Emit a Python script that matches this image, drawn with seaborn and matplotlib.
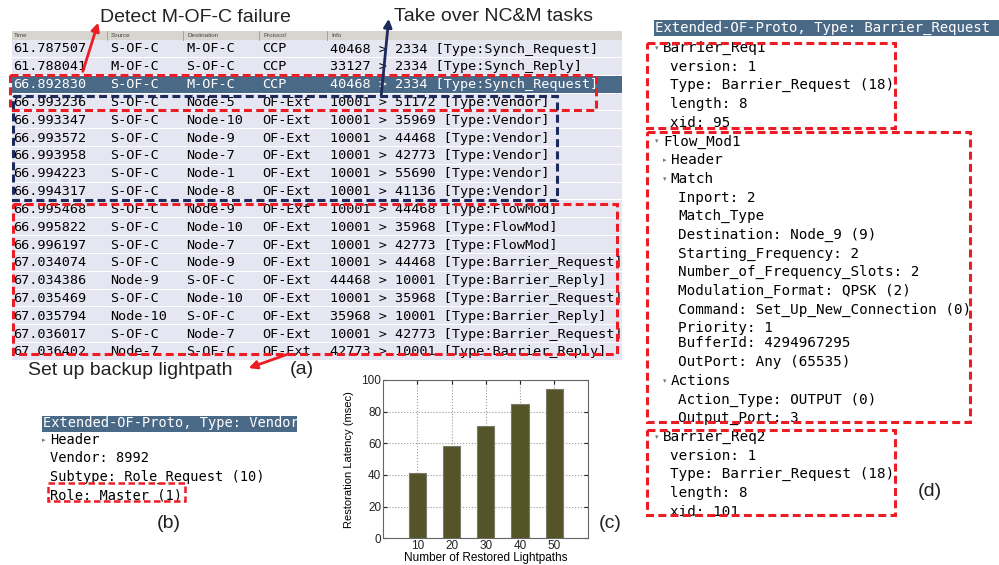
import matplotlib
matplotlib.use("Agg")
import matplotlib.pyplot as plt
from matplotlib.patches import Rectangle
import seaborn as sns

# ---- data ----
lightpaths = [10, 20, 30, 40, 50]
latency = [41, 58, 71, 85, 94]

times = ["61.787507", "61.788041", "66.892830", "66.993236", "66.993347", "66.993572",
         "66.993958", "66.994223", "66.994317", "66.995468", "66.995822", "66.996197",
         "67.034074", "67.034386", "67.035469", "67.035794", "67.036017", "67.036402"]
sources = ["S-OF-C", "M-OF-C", "S-OF-C", "S-OF-C", "S-OF-C", "S-OF-C", "S-OF-C", "S-OF-C",
           "S-OF-C", "S-OF-C", "S-OF-C", "S-OF-C", "S-OF-C", "Node-9", "S-OF-C", "Node-10",
           "S-OF-C", "Node-7"]
destinations = ["M-OF-C", "S-OF-C", "M-OF-C", "Node-5", "Node-10", "Node-9", "Node-7",
                "Node-1", "Node-8", "Node-9", "Node-10", "Node-7", "Node-9", "S-OF-C",
                "Node-10", "S-OF-C", "Node-7", "S-OF-C"]
protocols = ["CCP"] * 3 + ["OF-Ext"] * 15
infos = ["40468 > 2334 [Type:Synch_Request]", "33127 > 2334 [Type:Synch_Reply]",
         "40468 > 2334 [Type:Synch_Request]", "10001 > 51172 [Type:Vendor]",
         "10001 > 35969 [Type:Vendor]", "10001 > 44468 [Type:Vendor]",
         "10001 > 42773 [Type:Vendor]", "10001 > 55690 [Type:Vendor]",
         "10001 > 41136 [Type:Vendor]", "10001 > 44468 [Type:FlowMod]",
         "10001 > 35968 [Type:FlowMod]", "10001 > 42773 [Type:FlowMod]",
         "10001 > 44468 [Type:Barrier_Request]", "44468 > 10001 [Type:Barrier_Reply]",
         "10001 > 35968 [Type:Barrier_Request]", "35968 > 10001 [Type:Barrier_Reply]",
         "10001 > 42773 [Type:Barrier_Request]", "42773 > 10001 [Type:Barrier_Reply]"]
col_names = ["Time", "Source", "Destination", "Protocol", "Info"]

vendor_title = "Extended-OF-Proto, Type: Vendor"
vendor_lines = [(0, "Header", "r"), (0, "Vendor: 8992", None),
                (0, "Subtype: Role_Request (10)", None), (0, "Role: Master (1)", None)]

barrier_title = "Extended-OF-Proto, Type: Barrier_Request"
barrier_lines = [
    (0, "Barrier_Req1", "d"), (1, "version: 1", None), (1, "Type: Barrier_Request (18)", None),
    (1, "length: 8", None), (1, "xid: 95", None),
    (0, "Flow_Mod1", "d"), (1, "Header", "r"), (1, "Match", "d"),
    (2, "Inport: 2", None), (2, "Match_Type", None), (2, "Destination: Node_9 (9)", None),
    (2, "Starting_Frequency: 2", None), (2, "Number_of_Frequency_Slots: 2", None),
    (2, "Modulation_Format: QPSK (2)", None), (2, "Command: Set_Up_New_Connection (0)", None),
    (2, "Priority: 1", None), (2, "BufferId: 4294967295", None), (2, "OutPort: Any (65535)", None),
    (1, "Actions", "d"), (2, "Action_Type: OUTPUT (0)", None), (2, "Output_Port: 3", None),
    (0, "Barrier_Req2", "d"), (1, "version: 1", None), (1, "Type: Barrier_Request (18)", None),
    (1, "length: 8", None), (1, "xid: 101", None)]

# ---- figure ----
W, H = 999, 565
fig = plt.figure(figsize=(W / 100, H / 100), dpi=100)
ov = fig.add_axes([0, 0, 1, 1])
ov.set_xlim(0, W)
ov.set_ylim(H, 0)
ov.axis("off")

MONO = "DejaVu Sans Mono"
SANS = "Liberation Sans"
RED = "#ec1c24"
NAVY = "#1c2a5c"
SEL = "#4a6987"
DASH = (0, (2.6, 1.4))

# (a) packet list
tx0, tx1 = 12, 622
row0, dy = 49, 17.82
ov.add_patch(Rectangle((tx0, 31), tx1 - tx0, 9, color="#d8d5cf", lw=0))
col_x = [13, 110, 186, 262, 330]
for x, name in zip(col_x, col_names):
    ov.text(x + 1, 35.5, name, fontsize=4.5, color="#444444", va="center", family=SANS)
for x in col_x[1:]:
    ov.plot([x - 3, x - 3], [31, 40], color="#9a9a9a", lw=0.6)
clip = Rectangle((tx0, 0), tx1 - tx0, H, transform=ov.transData, visible=False)
ov.add_patch(clip)
for i in range(len(times)):
    yc = row0 + i * dy
    selected = i == 2
    ov.add_patch(Rectangle((tx0, yc - dy / 2), tx1 - tx0, dy - 1,
                           color=SEL if selected else "#e6e6f2", lw=0))
    tc = "white" if selected else "black"
    for x, val in zip(col_x, [times[i], sources[i], destinations[i], protocols[i], infos[i]]):
        t = ov.text(x, yc, val, fontsize=9.7, family=MONO, color=tc, va="center")
        t.set_clip_path(clip)

ov.add_patch(Rectangle((10, 75), 586, 35, fill=False, ec=RED, lw=2.2, ls=DASH, zorder=5))
ov.add_patch(Rectangle((13, 96), 544, 104, fill=False, ec=NAVY, lw=2.2, ls=DASH, zorder=5))
ov.add_patch(Rectangle((13, 204), 604, 150, fill=False, ec=RED, lw=2.2, ls=DASH, zorder=5))

ov.text(100, 22, "Detect M-OF-C failure", fontsize=14, family=SANS, color="#222222")
ov.annotate("", xy=(99, 20), xytext=(82, 74),
            arrowprops=dict(arrowstyle="-|>", color=RED, lw=2, mutation_scale=12), zorder=6)
ov.text(394, 21, "Take over NC&M tasks", fontsize=14, family=SANS, color="#222222")
ov.annotate("", xy=(389, 16), xytext=(381, 98),
            arrowprops=dict(arrowstyle="-|>", color=NAVY, lw=2, mutation_scale=12), zorder=6)
ov.text(28, 375, "Set up backup lightpath", fontsize=14, family=SANS, color="#222222")
ov.annotate("", xy=(246, 369), xytext=(291, 353),
            arrowprops=dict(arrowstyle="-|>", color=RED, lw=2, mutation_scale=12), zorder=6)
ov.text(290, 370, "(a)", fontsize=14, family=SANS, color="#222222", va="center")


def tree(title_x, title_y, base_x, y0, step, title, lines, fsize, tsize, bg_w, indent, gaps=()):
    ov.add_patch(Rectangle((title_x - 1.5, title_y - 8), bg_w, 16, color=SEL, lw=0))
    ov.text(title_x, title_y, title, fontsize=tsize, family=MONO, color="white", va="center")
    y = y0
    for k, (lvl, txt, arrow) in enumerate(lines):
        if k in gaps:
            y -= 3.7
        xt = base_x + indent * lvl
        if arrow:
            ov.text(xt - 6, y, "\u25be" if arrow == "d" else "\u25b8", fontsize=5,
                    color="#777777", ha="center", va="center", family="DejaVu Sans")
        ov.text(xt, y, txt, fontsize=fsize, family=MONO, color="black", va="center")
        y += step


# (b) vendor message
tree(43, 423.5, 50, 440, 18.4, vendor_title, vendor_lines, 9.8, 9.8, 255, 0)
ov.add_patch(Rectangle((48, 483), 137, 18, fill=False, ec=RED, lw=1.8, ls=DASH, zorder=5))
ov.text(157, 524, "(b)", fontsize=14, family=SANS, color="#222222", va="center")

# (d) barrier / flow mod messages
tree(655, 28, 663, 48, 18.7, barrier_title, barrier_lines, 10.3, 10.05, 346, 7.5, gaps=(16,))
ov.add_patch(Rectangle((647, 43), 248, 85, fill=False, ec=RED, lw=2.2, ls=DASH, zorder=5))
ov.add_patch(Rectangle((647, 132), 323, 290, fill=False, ec=RED, lw=2.2, ls=DASH, zorder=5))
ov.add_patch(Rectangle((647, 430), 248, 85, fill=False, ec=RED, lw=2.2, ls=DASH, zorder=5))
ov.text(918, 492, "(d)", fontsize=14, family=SANS, color="#222222", va="center")

# (c) restoration latency bar chart
ax = fig.add_axes([383.3 / W, 1 - 538.3 / H, 205 / W, 158.3 / H])
sns.barplot(x=lightpaths, y=latency, color="#555428", saturation=1, width=0.5,
            edgecolor="#7a7a6a", linewidth=0.8, ax=ax, zorder=3)
ax.set_xlim(-1, 5)
ax.set_ylim(0, 100)
ax.set_yticks(range(0, 101, 20))
ax.grid(True, linestyle=":", color="#9a9a9a", lw=0.8, zorder=0)
ax.set_axisbelow(True)
ax.tick_params(direction="in", length=3, top=True, right=True, labelsize=8.5, pad=1.5,
               colors="#222222")
for lab in ax.get_xticklabels() + ax.get_yticklabels():
    lab.set_family(SANS)
for s in ax.spines.values():
    s.set_color("#666666")
    s.set_linewidth(0.8)
ax.set_xlabel("Number of Restored Lightpaths", fontsize=8.5, family=SANS, labelpad=0)
ax.set_ylabel("Restoration Latency (msec)", fontsize=8, family=SANS, labelpad=5)
ov.text(599, 523, "(c)", fontsize=14, family=SANS, color="#222222", va="center")

fig.savefig("out.png", dpi=100)
